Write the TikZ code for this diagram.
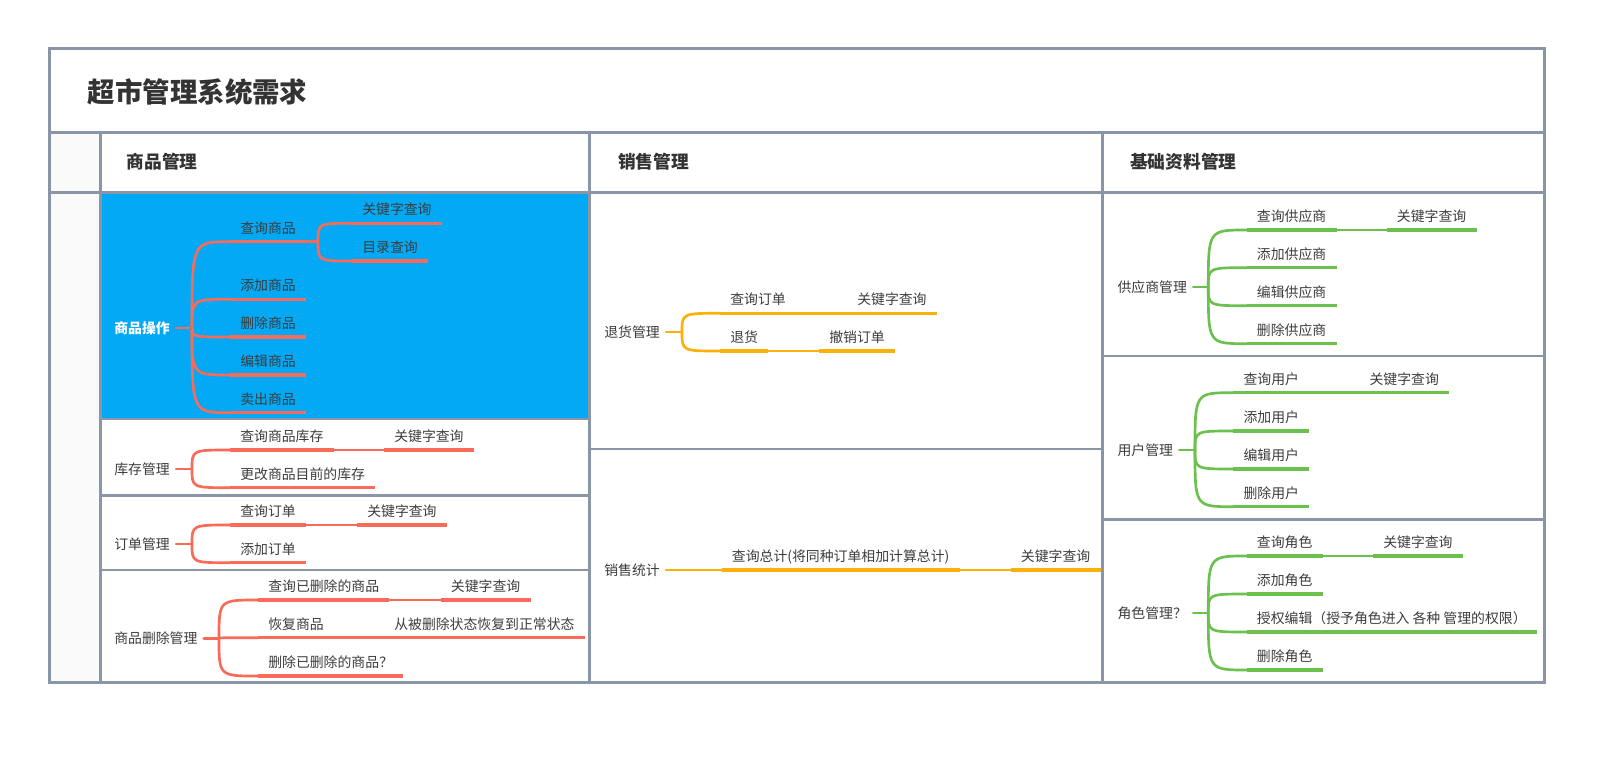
\documentclass[tikz,border=0pt]{standalone}
\usepackage{fontspec}
\newfontfamily\cjk{Noto Sans CJK SC}
\definecolor{framegray}{RGB}{139,149,168}
\definecolor{sheetblue}{RGB}{3,169,244}
\definecolor{sidegray}{RGB}{250,250,250}
\definecolor{inkdark}{RGB}{51,51,51}
\definecolor{inkgray}{RGB}{60,60,60}
\definecolor{coral}{RGB}{249,107,88}
\definecolor{amber}{RGB}{253,176,10}
\definecolor{leaf}{RGB}{108,193,78}
\colorlet{mapc}{coral}
\tikzset{
    frameline/.style={draw=framegray, line width=1.9pt},
    title/.style={anchor=west, font=\cjk\bfseries\fontsize{20.6pt}{24pt}\selectfont, text=inkdark},
    colhead/.style={anchor=west, font=\cjk\bfseries\fontsize{13.3pt}{16pt}\selectfont, text=inkdark},
    mainitem/.style={anchor=west, inner xsep=4.5pt, font=\cjk\fontsize{10.4pt}{12pt}\selectfont, text=inkgray},
    hot/.style={text=white, font=\cjk\bfseries\fontsize{10.4pt}{12pt}\selectfont},
    uline/.style={draw=mapc, line width=2.3pt},
    subitem/.style={anchor=south west, inner xsep=7.5pt, inner ysep=6.3pt, text depth=0pt,
        font=\cjk\fontsize{10.4pt}{12pt}\selectfont, text=inkgray,
        append after command={(\tikzlastnode.south west) edge[uline] (\tikzlastnode.south east)}},
    link/.style={draw=mapc, line width=2pt, line cap=round}
}
\begin{document}
\begin{tikzpicture}[x=0.75pt, y=-0.75pt]
    \useasboundingbox (0,0) rectangle (1622,760);

    % Table
    \fill[sheetblue] (100.3,192.4) rectangle (589.6,418.9);
    \fill[sidegray] (49.7,132.4) rectangle (100.3,682.7);
    \draw[frameline] (49.7,48.6) rectangle (1544.4,682.7);
    \foreach \y in {132.4, 192.4}
        \draw[frameline] (49.7,\y) -- (1544.4,\y);
    \foreach \x in {100.3, 589.6, 1102.7}
        \draw[frameline] (\x,132.4) -- (\x,682.7);
    \foreach \y in {418.9, 495.5, 570}
        \draw[frameline] (100.3,\y) -- (589.6,\y);
    \draw[frameline] (589.6,448.9) -- (1102.7,448.9);
    \foreach \y in {355.8, 519.3}
        \draw[frameline] (1102.7,\y) -- (1544.4,\y);

    % Headings
    \node[title] (title) at (83,92) {超市管理系统需求};
    \node[colhead] (goods) at (122,162) {商品管理};
    \node[colhead] (sales) at (613.5,162) {销售管理};
    \node[colhead] (basic) at (1125.5,162) {基础资料管理};

    % 商品操作
    \node[mainitem, hot] (op) at (108,328) {商品操作};
    \coordinate (opb) at (192,328);
    \node[subitem] (opq) at (230,241.7) {查询商品};
    \node[subitem] (opa) at (230,299.3) {添加商品};
    \node[subitem] (opd) at (230,337) {删除商品};
    \node[subitem] (ope) at (230,375) {编辑商品};
    \node[subitem] (ops) at (230,412.7) {卖出商品};
    \coordinate (opqb) at (318,241.7);
    \node[subitem] (opqk) at (352,223.3) {关键字查询};
    \node[subitem] (opqc) at (352,261) {目录查询};
    \draw[link] (op.east) -- (opb);
    \foreach \c in {opq,opa,opd,ope,ops}
        \draw[link] (opb) .. controls (opb |- \c.south west) .. (\c.south west);
    \draw[link] (opq.south east) -- (opqb);
    \foreach \c in {opqk,opqc}
        \draw[link] (opqb) .. controls (opqb |- \c.south west) .. (\c.south west);

    % 库存管理
    \node[mainitem] (st) at (108,469) {库存管理};
    \coordinate (stb) at (192,469);
    \node[subitem] (stq) at (230,450) {查询商品库存};
    \node[subitem] (stc) at (230,487.7) {更改商品目前的库存};
    \node[subitem] (stqk) at (384,450) {关键字查询};
    \draw[link] (st.east) -- (stb);
    \foreach \c in {stq,stc}
        \draw[link] (stb) .. controls (stb |- \c.south west) .. (\c.south west);
    \draw[link] (stq.south east) -- (stqk.south west);

    % 订单管理
    \node[mainitem] (od) at (108,544) {订单管理};
    \coordinate (odb) at (192,544);
    \node[subitem] (odq) at (230,525) {查询订单};
    \node[subitem] (oda) at (230,562.7) {添加订单};
    \node[subitem] (odqk) at (357,525) {关键字查询};
    \draw[link] (od.east) -- (odb);
    \foreach \c in {odq,oda}
        \draw[link] (odb) .. controls (odb |- \c.south west) .. (\c.south west);
    \draw[link] (odq.south east) -- (odqk.south west);

    % 商品删除管理
    \node[mainitem] (dl) at (108,638.5) {商品删除管理};
    \coordinate (dlb) at (219,638.5);
    \node[subitem] (dlq) at (258,600) {查询已删除的商品};
    \node[subitem] (dlr) at (258,637.7) {恢复商品};
    \node[subitem] (dlx) at (258,676) {删除已删除的商品？};
    \node[subitem] (dlqk) at (440.7,600) {关键字查询};
    \node[subitem] (dlrn) at (384,637.7) {从被删除状态恢复到正常状态};
    \draw[link] (dl.east) -- (dlb);
    \foreach \c in {dlq,dlr,dlx}
        \draw[link] (dlb) .. controls (dlb |- \c.south west) .. (\c.south west);
    \draw[link] (dlq.south east) -- (dlqk.south west);
    \draw[link] (dlr.south east) -- (dlrn.south west);

    % 退货管理
    \begin{scope}
        \colorlet{mapc}{amber}
        \node[mainitem] (rt) at (598,332) {退货管理};
        \coordinate (rtb) at (682,332);
        \node[subitem] (rtq) at (720,313.3) {查询订单};
        \node[subitem] (rtr) at (720,351) {退货};
        \node[subitem] (rtqk) at (847,313.3) {关键字查询};
        \node[subitem] (rtrc) at (819,351) {撤销订单};
        \draw[link] (rt.east) -- (rtb);
        \foreach \c in {rtq,rtr}
            \draw[link] (rtb) .. controls (rtb |- \c.south west) .. (\c.south west);
        \draw[link] (rtq.south east) -- (rtqk.south west);
        \draw[link] (rtr.south east) -- (rtrc.south west);

        % 销售统计
        \node[mainitem] (ss) at (598,570) {销售统计};
        \node[subitem] (ssq) at (721.7,570) {查询总计(将同种订单相加计算总计)};
        \node[subitem] (ssqk) at (1010.7,570) {关键字查询};
        \draw[link] (ss.east) -- (ssq.south west);
        \draw[link] (ssq.south east) -- (ssqk.south west);
    \end{scope}

    % 供应商管理
    \begin{scope}
        \colorlet{mapc}{leaf}
        \node[mainitem] (sp) at (1111.3,287) {供应商管理};
        \coordinate (spb) at (1208.3,287);
        \node[subitem] (spq) at (1246.7,230) {查询供应商};
        \node[subitem] (spa) at (1246.7,267.7) {添加供应商};
        \node[subitem] (spe) at (1246.7,305.7) {编辑供应商};
        \node[subitem] (spd) at (1246.7,343.7) {删除供应商};
        \node[subitem] (spqk) at (1386.7,230) {关键字查询};
        \draw[link] (sp.east) -- (spb);
        \foreach \c in {spq,spa,spe,spd}
            \draw[link] (spb) .. controls (spb |- \c.south west) .. (\c.south west);
        \draw[link] (spq.south east) -- (spqk.south west);

        % 用户管理
        \node[mainitem] (us) at (1111.3,450) {用户管理};
        \coordinate (usb) at (1195,450);
        \node[subitem] (usq) at (1233.3,392.7) {查询用户};
        \node[subitem] (usa) at (1233.3,431) {添加用户};
        \node[subitem] (use) at (1233.3,469) {编辑用户};
        \node[subitem] (usd) at (1233.3,506.7) {删除用户};
        \node[subitem] (usqk) at (1359.3,392.7) {关键字查询};
        \draw[link] (us.east) -- (usb);
        \foreach \c in {usq,usa,use,usd}
            \draw[link] (usb) .. controls (usb |- \c.south west) .. (\c.south west);
        \draw[link] (usq.south east) -- (usqk.south west);

        % 角色管理
        \node[mainitem] (ro) at (1111.3,613) {角色管理？};
        \coordinate (rob) at (1208.3,613);
        \node[subitem] (roq) at (1246.7,556) {查询角色};
        \node[subitem] (roa) at (1246.7,594) {添加角色};
        \node[subitem] (rog) at (1246.7,632) {授权编辑（授予角色进入 各种 管理的权限）};
        \node[subitem] (rod) at (1246.7,670) {删除角色};
        \node[subitem] (roqk) at (1373,556) {关键字查询};
        \draw[link] (ro.east) -- (rob);
        \foreach \c in {roq,roa,rog,rod}
            \draw[link] (rob) .. controls (rob |- \c.south west) .. (\c.south west);
        \draw[link] (roq.south east) -- (roqk.south west);
    \end{scope}
\end{tikzpicture}
\end{document}
